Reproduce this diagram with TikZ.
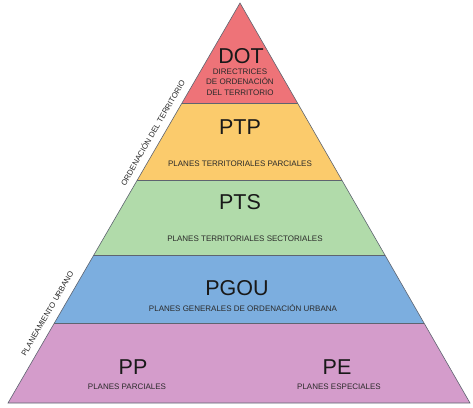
\documentclass[tikz,border=0pt]{standalone}
\usepackage{fontspec}
\setmainfont{Liberation Sans}
\definecolor{cred}{HTML}{EE7378}
\definecolor{cyel}{HTML}{FBCB6C}
\definecolor{cgrn}{HTML}{B1DBAA}
\definecolor{cblu}{HTML}{7CAEDF}
\definecolor{cpnk}{HTML}{D49CCB}
\definecolor{cline}{HTML}{5E6470}
\definecolor{ctxt}{HTML}{2A2A2A}
\tikzset{
  band/.style={draw=cline, line width=0.6pt, line join=miter},
  big/.style={font=\fontsize{21.5}{24}\selectfont, text=black!90, inner sep=0pt},
  small/.style={font=\fontsize{8}{10.5}\selectfont, text=ctxt, inner sep=0pt, align=center},
  side/.style={font=\fontsize{7.8}{9}\selectfont, text=ctxt, inner sep=0pt, rotate=60}
}
\begin{document}
\begin{tikzpicture}[x=1pt,y=-1pt]
\useasboundingbox (0,0) rectangle (473,407);
% bands
\fill[cred] (240,3) -- (297.5,103) -- (182,103) -- cycle;
\fill[cyel] (182,103) -- (297.5,103) -- (341.8,180) -- (137.3,180) -- cycle;
\fill[cgrn] (137.3,180) -- (341.8,180) -- (384.9,255) -- (93.8,255) -- cycle;
\fill[cblu] (93.8,255) -- (384.9,255) -- (424,323) -- (54.4,323) -- cycle;
\fill[cpnk] (54.4,323) -- (424,323) -- (470,403) -- (8,403) -- cycle;
\draw[band] (182,103) -- (297.5,103);
\draw[band] (137.3,180) -- (341.8,180);
\draw[band] (93.8,255) -- (384.9,255);
\draw[band] (54.4,323) -- (424,323);
\draw[band] (240,3) -- (470,403) -- (8,403) -- cycle;
% texts
\node[big] (dot) at (241,56) {DOT};
\node[small] (dotd) at (240,82) {DIRECTRICES\\DE ORDENACIÓN\\DEL TERRITORIO};
\node[big] (ptp) at (240,127) {PTP};
\node[small] (ptpd) at (240,164) {PLANES TERRITORIALES PARCIALES};
\node[big] (pts) at (240,202) {PTS};
\node[small] (ptsd) at (245,239) {PLANES TERRITORIALES SECTORIALES};
\node[big] (pgou) at (237,288) {PGOU};
\node[small] (pgoud) at (243,308) {PLANES GENERALES DE ORDENACIÓN URBANA};
\node[big] (pp) at (133,367) {PP};
\node[small] (ppd) at (127,387) {PLANES PARCIALES};
\node[big] (pe) at (337,367) {PE};
\node[small] (ped) at (339,387) {PLANES ESPECIALES};
\node[side] (ot) at (152.5,132.5) {ORDENACIÓN DEL TERRITORIO};
\node[side] (pu) at (47.5,313.5) {PLANEAMIENTO URBANO};
\end{tikzpicture}
\end{document}
